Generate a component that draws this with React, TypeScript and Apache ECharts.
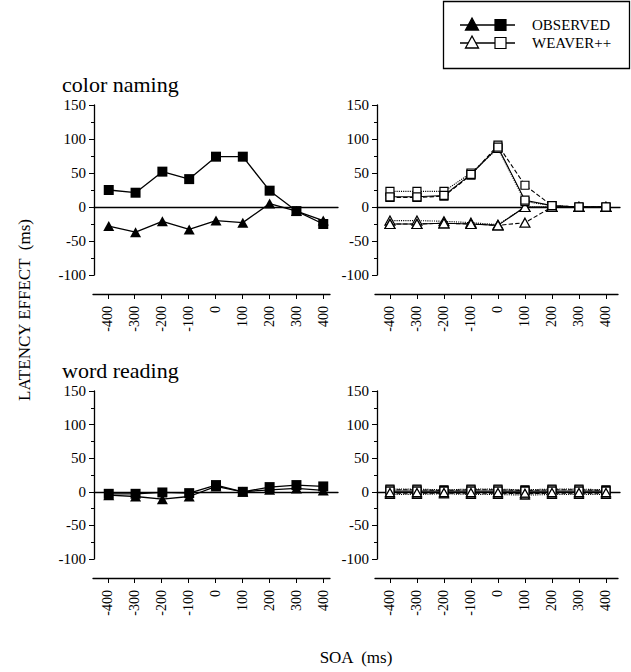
import React, { useEffect, useRef } from "react";
import * as echarts from "echarts";

// ---------- data ----------
const soa = [-400, -300, -200, -100, 0, 100, 200, 300, 400];
const soaTicks = [-400, -300, -200, -100, 0, 100, 200, 300, 400];
const yTicksMin = -100;
const yTicksMax = 150;

// color naming, observed
const colorObsSquare = [25, 21, 52, 41, 74, 74, 24, -6, -25];
const colorObsTriangle = [-28, -37, -21, -33, -20, -23, 5, -6, -20];

// color naming, WEAVER++ (three simulation variants)
const colorModelSqSolid = [15, 15, 17, 48, 88, 10, 2, 0, 0];
const colorModelSqDashed = [14, 14, 16, 47, 91, 32, 2, 0, 0];
const colorModelSqDotted = [23, 23, 23, 50, 86, 8, 2, 0, 0];
const colorModelTriSolid = [-25, -25, -24, -25, -27, 0, 0, 0, 0];
const colorModelTriDashed = [-25, -25, -24, -25, -27, -23, 0, 0, 0];
const colorModelTriDotted = [-20, -20, -21, -23, -26, 0, 0, 0, 0];

// word reading, observed
const wordObsSquare = [-3, -3, -1, -2, 10, 0, 7, 10, 8];
const wordObsTriangle = [-5, -7, -11, -7, 8, 0, 3, 5, 2];

// word reading, WEAVER++
const wordModelSqSolid = [1, 1, 1, 1, 1, 1, 1, 1, 1];
const wordModelSqDashed = [3, 3, 2, 3, 3, 2, 3, 3, 2];
const wordModelSqDotted = [4, 4, 3, 4, 4, 3, 4, 4, 3];
const wordModelTriSolid = [-1, -1, -1, -1, -1, -2, -1, -1, -1];
const wordModelTriDashed = [-2, -2, -2, -2, -2, -3, -2, -2, -2];
const wordModelTriDotted = [-4, -4, -3, -4, -4, -5, -4, -4, -4];

const FONT = "'Liberation Serif', 'DejaVu Serif', 'Times New Roman', serif";

function pairs(vals: number[]) {
  return soa.map((x, i) => [x, vals[i]]);
}

export default function App() {
  const ref = useRef<HTMLDivElement>(null);

  useEffect(() => {
    if (!ref.current) return;
    const chart = echarts.init(ref.current, null, { renderer: "svg" });

    // plot grids: 0 TL, 1 TR, 2 BL, 3 BR ; axis grids: 4 TL, 5 TR, 6 BL, 7 BR
    const plotTopY = 105;
    const plotBotY = 391;
    const plotH = 170;
    const plotHB = 168;
    const grids = [
      { left: 94, top: plotTopY, width: 244, height: plotH },
      { left: 377, top: plotTopY, width: 243, height: plotH },
      { left: 94, top: plotBotY, width: 244, height: plotHB },
      { left: 377, top: plotBotY, width: 243, height: plotHB },
      { left: 93, top: 293, width: 237, height: 1 },
      { left: 375, top: 293, width: 243, height: 1 },
      { left: 93, top: 577, width: 237, height: 1 },
      { left: 375, top: 577, width: 243, height: 1 },
    ];
    const plotX = [
      { min: -455, max: 455 },
      { min: -448, max: 452 },
      { min: -455, max: 455 },
      { min: -448, max: 452 },
    ];
    const axisX = [
      { min: -455, max: 425 },
      { min: -455, max: 445 },
      { min: -455, max: 425 },
      { min: -455, max: 445 },
    ];

    const xAxes: any[] = [];
    const yAxes: any[] = [];
    for (let i = 0; i < 4; i++) {
      xAxes.push({
        type: "value",
        gridIndex: i,
        min: plotX[i].min,
        max: plotX[i].max,
        axisLine: { show: true, onZero: true, lineStyle: { color: "#000", width: 1.3 } },
        axisTick: { show: false },
        axisLabel: { show: false },
        splitLine: { show: false },
      });
      yAxes.push({
        type: "value",
        gridIndex: i,
        min: yTicksMin,
        max: yTicksMax,
        interval: 50,
        axisLine: { show: true, onZero: false, lineStyle: { color: "#000", width: 1.3 } },
        axisTick: { show: true, length: 5, lineStyle: { color: "#000" } },
        minorTick: { show: true, splitNumber: 2, length: 3, lineStyle: { color: "#000" } },
        axisLabel: { color: "#000", fontFamily: FONT, fontSize: 15, margin: 8 },
        splitLine: { show: false },
      });
    }
    for (let i = 0; i < 4; i++) {
      xAxes.push({
        type: "value",
        gridIndex: 4 + i,
        position: "bottom",
        min: axisX[i].min,
        max: axisX[i].max,
        axisLine: { show: true, onZero: false, lineStyle: { color: "#000", width: 1.3 } },
        axisTick: { show: true, length: 5, customValues: soaTicks, lineStyle: { color: "#000" } },
        axisLabel: {
          show: true,
          customValues: soaTicks,
          rotate: 90,
          color: "#000",
          fontFamily: FONT,
          fontSize: 14,
          margin: 12,
        },
        splitLine: { show: false },
      });
      yAxes.push({ type: "value", gridIndex: 4 + i, show: false, min: 0, max: 1 });
    }

    const filled = (vals: number[], idx: number, sym: string, size: any) => ({
      type: "line",
      xAxisIndex: idx,
      yAxisIndex: idx,
      data: pairs(vals),
      symbol: sym,
      symbolSize: size,
      itemStyle: { color: "#000" },
      lineStyle: { color: "#000", width: 1.3 },
      z: 3,
    });
    const open = (vals: number[], idx: number, sym: string, size: any, lineType: string) => ({
      type: "line",
      xAxisIndex: idx,
      yAxisIndex: idx,
      data: pairs(vals),
      symbol: sym,
      symbolSize: size,
      itemStyle: { color: "#fff", borderColor: "#000", borderWidth: 1.2 },
      lineStyle: { color: "#000", width: 1.1, type: lineType },
      z: 3,
    });

    const series: any[] = [
      filled(colorObsTriangle, 0, "triangle", [11, 10]),
      filled(colorObsSquare, 0, "rect", 10),
      open(colorModelTriDotted, 1, "triangle", [10, 9], "dotted"),
      open(colorModelTriDashed, 1, "triangle", [10, 9], "dashed"),
      open(colorModelTriSolid, 1, "triangle", [10, 9], "solid"),
      open(colorModelSqDotted, 1, "rect", 8, "dotted"),
      open(colorModelSqDashed, 1, "rect", 8, "dashed"),
      open(colorModelSqSolid, 1, "rect", 8, "solid"),
      filled(wordObsTriangle, 2, "triangle", [11, 10]),
      filled(wordObsSquare, 2, "rect", 10),
      open(wordModelSqDotted, 3, "rect", 8, "dotted"),
      open(wordModelSqDashed, 3, "rect", 8, "dashed"),
      open(wordModelSqSolid, 3, "rect", 8, "solid"),
      open(wordModelTriDotted, 3, "triangle", [9, 8], "dotted"),
      open(wordModelTriDashed, 3, "triangle", [9, 8], "dashed"),
      open(wordModelTriSolid, 3, "triangle", [9, 8], "solid"),
    ];

    const tri = (cx: number, cy: number, w: number, h: number) => [
      [cx, cy - h / 2],
      [cx + w / 2, cy + h / 2],
      [cx - w / 2, cy + h / 2],
    ];

    const legendRow = (y: number, fill: string) => [
      {
        type: "line",
        z: 10,
        shape: { x1: 460, y1: y, x2: 515, y2: y },
        style: { stroke: "#000", lineWidth: 1.3 },
      },
      {
        type: "polygon",
        z: 11,
        shape: { points: tri(472, y - 1, 13, 12) },
        style: { fill, stroke: "#000", lineWidth: 1.3 },
      },
      {
        type: "rect",
        z: 11,
        shape: { x: 495, y: y - 5.5, width: 11, height: 11 },
        style: { fill, stroke: "#000", lineWidth: 1.2 },
      },
    ];

    const graphic: any[] = [
      {
        type: "rect",
        shape: { x: 443.5, y: 1.5, width: 186, height: 67 },
        style: { fill: "none", stroke: "#000", lineWidth: 1.3 },
        z: 1,
      },
      ...legendRow(25, "#000"),
      ...legendRow(43, "#fff"),
      {
        type: "text",
        z: 10,
        x: 532,
        y: 25,
        style: { text: "OBSERVED", fill: "#000", font: `15px ${FONT}`, verticalAlign: "middle" },
      },
      {
        type: "text",
        z: 10,
        x: 532,
        y: 43,
        style: { text: "WEAVER++", fill: "#000", font: `15px ${FONT}`, verticalAlign: "middle" },
      },
      {
        type: "text",
        x: 62,
        y: 95,
        style: { text: "color naming", fill: "#000", font: `22px ${FONT}`, verticalAlign: "bottom" },
      },
      {
        type: "text",
        x: 62,
        y: 381,
        style: { text: "word reading", fill: "#000", font: `22px ${FONT}`, verticalAlign: "bottom" },
      },
      {
        type: "text",
        x: 24,
        y: 310,
        rotation: Math.PI / 2,
        style: {
          text: "LATENCY EFFECT  (ms)",
          fill: "#000",
          font: `17px ${FONT}`,
          align: "center",
          verticalAlign: "middle",
        },
      },
      {
        type: "text",
        x: 356,
        y: 657,
        style: {
          text: "SOA  (ms)",
          fill: "#000",
          font: `17px ${FONT}`,
          align: "center",
          verticalAlign: "middle",
        },
      },
    ];

    chart.setOption({
      animation: false,
      backgroundColor: "#fff",
      grid: grids,
      xAxis: xAxes,
      yAxis: yAxes,
      series,
      graphic,
    });

    return () => chart.dispose();
  }, []);

  return (
    <div
      ref={ref}
      style={{ position: "absolute", left: 0, top: 0, width: 631, height: 672 }}
    />
  );
}
